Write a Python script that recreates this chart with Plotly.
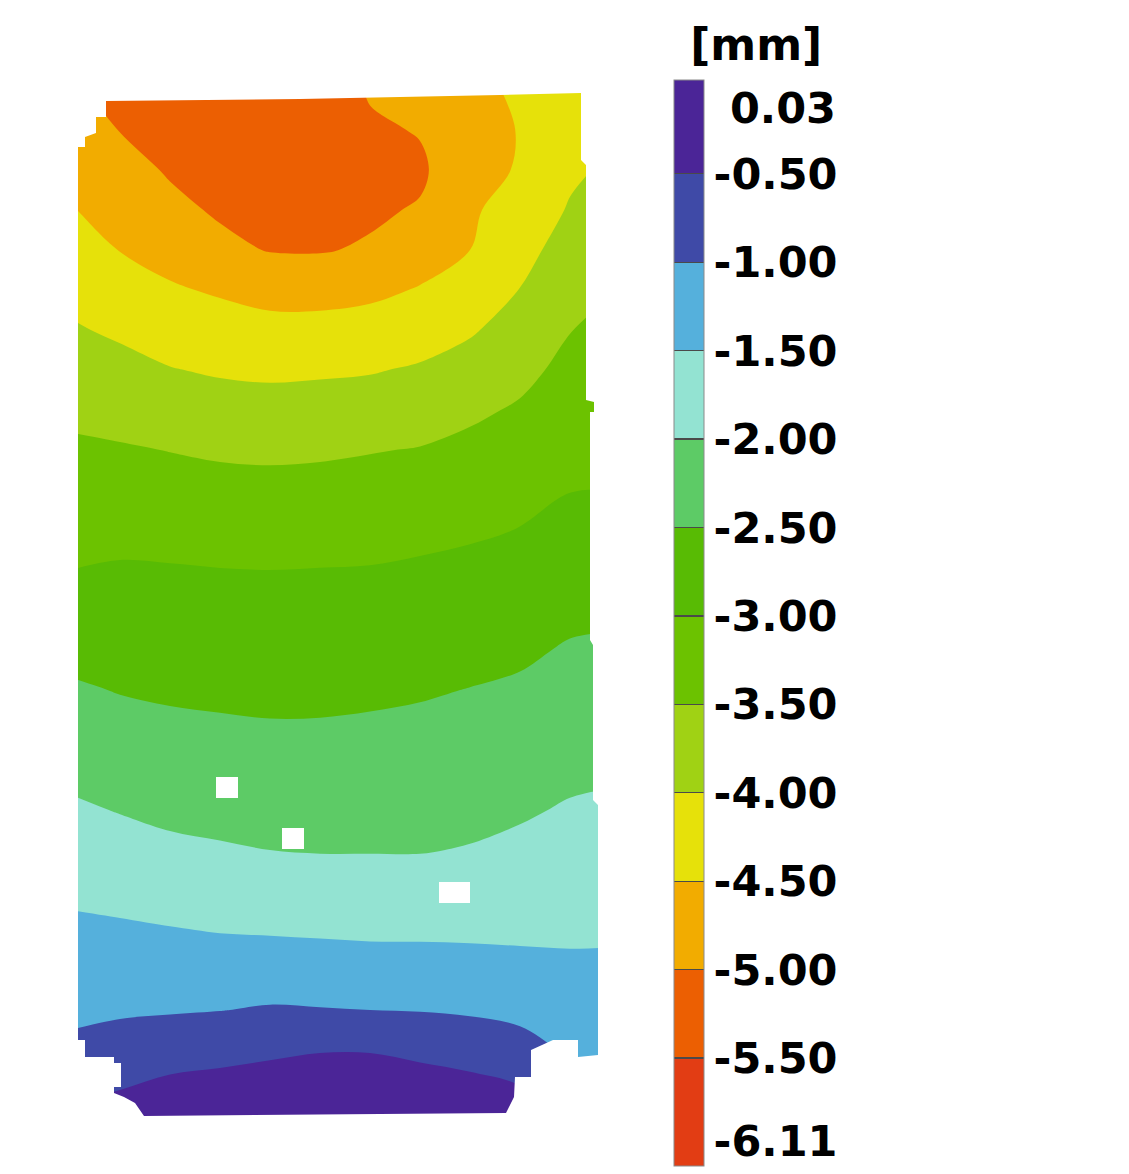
import plotly.graph_objects as go

# ---------------- data ----------------
# grid node positions on the specimen (image-pixel units)
x_pos = [70, 120, 170, 220, 270, 320, 370, 420, 470, 520, 570, 610]
y_pos = [90, 130, 170, 210, 250, 290, 330, 370, 410, 450, 490, 530, 570, 610,
         650, 690, 730, 770, 810, 850, 890, 930, 970, 1010, 1050, 1090, 1130]

# displacement [mm] at each node (rows follow y_pos, columns follow x_pos)
z_mm = [
    [-4.95, -5.10, -5.25, -5.35, -5.40, -5.40, -4.95, -4.85, -4.75, -4.35, -4.30, -4.20],
    [-4.79, -5.01, -5.15, -5.25, -5.30, -5.30, -5.08, -4.97, -4.69, -4.48, -4.19, -4.07],
    [-4.63, -4.85, -5.04, -5.15, -5.19, -5.20, -5.15, -5.08, -4.63, -4.47, -4.08, -3.93],
    [-4.47, -4.68, -4.90, -5.05, -5.09, -5.10, -5.07, -4.96, -4.56, -4.31, -3.96, -3.79],
    [-4.30, -4.51, -4.66, -4.90, -5.02, -5.03, -4.95, -4.71, -4.50, -4.15, -3.81, -3.66],
    [-4.12, -4.29, -4.45, -4.55, -4.65, -4.66, -4.60, -4.47, -4.27, -3.99, -3.66, -3.52],
    [-3.95, -4.07, -4.21, -4.30, -4.36, -4.35, -4.31, -4.21, -4.05, -3.80, -3.51, -3.41],
    [-3.77, -3.86, -3.98, -4.05, -4.08, -4.06, -4.03, -3.95, -3.81, -3.62, -3.38, -3.31],
    [-3.59, -3.66, -3.74, -3.80, -3.83, -3.81, -3.78, -3.71, -3.58, -3.45, -3.26, -3.21],
    [-3.43, -3.46, -3.51, -3.56, -3.58, -3.56, -3.52, -3.48, -3.39, -3.29, -3.13, -3.10],
    [-3.29, -3.29, -3.33, -3.36, -3.37, -3.36, -3.33, -3.29, -3.22, -3.14, -3.01, -3.00],
    [-3.14, -3.12, -3.15, -3.18, -3.19, -3.17, -3.15, -3.11, -3.05, -2.99, -2.87, -2.86],
    [-3.00, -2.96, -2.97, -2.99, -3.00, -2.99, -2.98, -2.94, -2.91, -2.85, -2.73, -2.71],
    [-2.81, -2.81, -2.84, -2.86, -2.87, -2.86, -2.84, -2.81, -2.77, -2.71, -2.60, -2.57],
    [-2.63, -2.66, -2.70, -2.72, -2.73, -2.73, -2.71, -2.67, -2.63, -2.57, -2.46, -2.44],
    [-2.44, -2.52, -2.56, -2.58, -2.60, -2.59, -2.57, -2.54, -2.49, -2.44, -2.34, -2.31],
    [-2.28, -2.35, -2.41, -2.44, -2.46, -2.46, -2.44, -2.41, -2.36, -2.31, -2.21, -2.18],
    [-2.11, -2.19, -2.25, -2.28, -2.31, -2.31, -2.30, -2.28, -2.24, -2.18, -2.09, -2.06],
    [-1.93, -2.02, -2.10, -2.13, -2.15, -2.16, -2.16, -2.15, -2.11, -2.05, -1.96, -1.93],
    [-1.76, -1.83, -1.91, -1.96, -2.00, -2.02, -2.02, -2.02, -1.98, -1.91, -1.83, -1.81],
    [-1.58, -1.64, -1.70, -1.74, -1.77, -1.80, -1.81, -1.81, -1.78, -1.74, -1.70, -1.68],
    [-1.42, -1.44, -1.48, -1.52, -1.54, -1.56, -1.58, -1.58, -1.58, -1.58, -1.57, -1.56],
    [-1.27, -1.25, -1.26, -1.27, -1.26, -1.28, -1.30, -1.31, -1.34, -1.38, -1.42, -1.42],
    [-1.08, -1.06, -1.04, -1.01, -0.96, -0.98, -1.00, -1.02, -1.06, -1.13, -1.25, -1.25],
    [-0.92, -0.79, -0.69, -0.63, -0.57, -0.52, -0.52, -0.59, -0.68, -0.81, -1.07, -1.08],
    [-0.58, -0.50, -0.38, -0.34, -0.30, -0.26, -0.26, -0.30, -0.35, -0.46, -0.85, -0.93],
    [-0.35, -0.30, -0.15, -0.10, -0.05, 0.00, 0.00, -0.05, -0.10, -0.30, -0.60, -0.70],
]

# specimen outline (measured area)
outline_x = [106, 300, 420, 500, 581, 581, 586, 586, 594, 594, 590, 590, 593, 593, 598, 598,
             578, 578, 553, 531, 531, 515, 514, 506, 144, 135, 124, 114, 114, 121, 121,
             114, 114, 85, 85, 78, 78, 85, 85, 96, 96, 106, 106]
outline_y = [101, 99, 97, 95, 93, 160, 165, 400, 402, 412, 412, 640, 645, 800, 805, 1055,
             1057, 1040, 1040, 1050, 1077, 1077, 1097, 1113, 1116, 1103, 1097, 1093, 1087, 1087, 1063,
             1063, 1057, 1057, 1040, 1040, 147, 147, 137, 133, 117, 117, 101]

# missing-data holes (x0, x1, y0, y1)
holes = [(216, 238, 777, 798), (282, 304, 828, 849), (439, 470, 882, 903)]

# colour levels [mm] and band colours (from lowest to highest)
level_min, level_max = -6.11, 0.03
band_edges = [-6.11, -5.5, -5.0, -4.5, -4.0, -3.5, -3.0, -2.5, -2.0, -1.5, -1.0, -0.5, 0.03]
band_colors = ['#E23D14', '#EC5F02', '#F2AC00', '#E6E10A', '#A0D214', '#6CC200',
               '#58BB04', '#5DCB66', '#93E3D2', '#55B0DC', '#3F4AA7', '#4B2597']
separator_color = '#4a4a4a'
tick_vals = [-5.97, -5.5, -5.0, -4.5, -4.0, -3.5, -3.0, -2.5, -2.0, -1.5, -1.0, -0.5, -0.13]
tick_text = ['-6.11', '-5.50', '-5.00', '-4.50', '-4.00', '-3.50', '-3.00', '-2.50',
             '-2.00', '-1.50', '-1.00', '-0.50', '\u20080.03']

# ---------------- figure ----------------
nb = len(band_colors)
contour_scale = []
for i, c in enumerate(band_colors):
    contour_scale.append([i / nb, c])
    contour_scale.append([(i + 1) / nb, c])

# stepped scale for the colour bar, with thin separators between bands
span = level_max - level_min
half = 0.0006
bar_scale = []
for i, c in enumerate(band_colors):
    f0 = (band_edges[i] - level_min) / span
    f1 = (band_edges[i + 1] - level_min) / span
    if i > 0:
        bar_scale.append([f0 - half, separator_color])
        bar_scale.append([f0 + half, separator_color])
        bar_scale.append([f0 + half, c])
    else:
        bar_scale.append([0.0, c])
    if i < nb - 1:
        bar_scale.append([f1 - half, c])
    else:
        bar_scale.append([1.0, c])

fig = go.Figure()

fig.add_trace(go.Contour(
    x=x_pos, y=y_pos, z=z_mm,
    contours=dict(start=-5.5, end=-0.5, size=0.5, coloring='fill', showlines=False),
    colorscale=contour_scale,
    line=dict(width=0, smoothing=1.0),
    showscale=False,
    hoverinfo='skip',
))

# white mask outside the measured outline and on the holes
fx0, fx1 = x_pos[0] - 10, x_pos[-1] + 10
fy0, fy1 = y_pos[0] - 10, y_pos[-1] + 10
mask_x = [fx0, fx0, fx1, fx1, fx0] + list(outline_x) + [fx0]
mask_y = [fy0, fy1, fy1, fy0, fy0] + list(outline_y) + [fy0]
for (hx0, hx1, hy0, hy1) in holes:
    mask_x += [None, hx0, hx1, hx1, hx0, hx0]
    mask_y += [None, hy0, hy0, hy1, hy1, hy0]

fig.add_trace(go.Scatter(
    x=mask_x, y=mask_y, mode='lines', fill='toself',
    fillcolor='white', line=dict(width=0, color='white'),
    hoverinfo='skip', showlegend=False,
))

# colour bar
fig.add_trace(go.Scatter(
    x=[x_pos[0], x_pos[0]], y=[y_pos[0], y_pos[0]], mode='markers',
    marker=dict(
        color=[level_min, level_max], cmin=level_min, cmax=level_max,
        colorscale=bar_scale, size=1, opacity=0, showscale=True,
        colorbar=dict(
            x=674 / 1129, xanchor='left', xpad=0,
            y=1 - 24 / 1174, yanchor='top', ypad=0,
            len=1142, lenmode='pixels', thickness=30,
            outlinewidth=1, outlinecolor='#8a8a8a',
            tickmode='array', tickvals=tick_vals, ticktext=tick_text,
            ticks='',
            tickfont=dict(family='DejaVu Sans', size=43, color='black', weight='bold'),
            title=dict(text='\u200b\u2008[mm]', side='top',
                       font=dict(family='DejaVu Sans', size=44, color='black', weight='bold')),
        ),
    ),
    hoverinfo='skip', showlegend=False,
))

fig.update_layout(
    width=1129, height=1174,
    margin=dict(l=0, r=0, t=0, b=0),
    paper_bgcolor='white', plot_bgcolor='white',
    xaxis=dict(range=[0, 1129], visible=False, fixedrange=True),
    yaxis=dict(range=[1174, 0], visible=False, fixedrange=True),
    showlegend=False,
)

fig.write_html('out.html')
